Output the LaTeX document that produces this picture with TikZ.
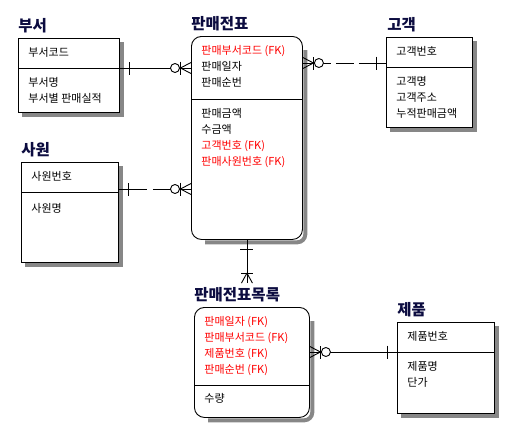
\documentclass[tikz,border=0pt]{standalone}
\usepackage{fontspec}
\setmainfont{Noto Sans CJK KR}
\usepackage{tikz}
\usetikzlibrary{matrix, positioning}
\definecolor{titlenavy}{RGB}{12,12,64}
\definecolor{fkred}{RGB}{255,0,0}
\definecolor{shadowgray}{RGB}{135,135,135}

\tikzset{
  entity/.style={draw, inner sep=0pt, anchor=north west},
  weak/.style={entity, rounded corners=10pt},
  shadowline/.style={draw=shadowgray, line width=4pt, line cap=butt, line join=miter},
  title/.style={font=\fontsize{15.5}{18}\selectfont\bfseries, text=titlenavy,
    inner sep=0pt, text height=13pt, text depth=2pt},
  attrs/.style={matrix of nodes, inner sep=0pt, row sep=0pt,
    nodes={anchor=west, inner sep=0pt, text height=12pt, text depth=4pt,
      font=\fontsize{11}{13}\selectfont}},
  fk/.style={text=fkred},
  nonid/.style={dash pattern=on 28pt off 5pt on 18pt off 5pt},
  one/.pic={\draw (-10,-6.5) -- (-10,6.5);},
  zeromany/.pic={
    \draw (-10.5,0) -- (0,-5.5) (-10.5,0) -- (0,5.5);
    \draw (-10.5,-6.5) -- (-10.5,6.5);
    \draw[fill=white] (-16,0) circle (4.5);},
  onemany/.pic={
    \draw (-10,0) -- (0,-5.5) (-10,0) -- (0,5.5);
    \draw (-10,-6) -- (-10,6);}
}

\begin{document}
\begin{tikzpicture}[x=1pt, y=-1pt, line width=0.9pt]
  \useasboundingbox (0,0) rectangle (520,439);

  % entity boxes
  \node[entity, minimum width=101pt, minimum height=74pt] (buseo) at (18,38) {};
  \node[weak, minimum width=111pt, minimum height=203pt] (panmae) at (191,36) {};
  \node[entity, minimum width=86pt, minimum height=90pt] (gogaek) at (386,37) {};
  \node[entity, minimum width=97pt, minimum height=100pt] (sawon) at (21,162) {};
  \node[weak, minimum width=115pt, minimum height=110pt] (mokrok) at (194,307) {};
  \node[entity, minimum width=97pt, minimum height=91pt] (jepum) at (397,322) {};

  % shadows along the right and bottom sides
  \foreach \e in {buseo, gogaek, sawon, jepum}
    \draw[shadowline] ([shift={(2.4pt,-4pt)}]\e.north east)
      -- ([shift={(2.4pt,-2.4pt)}]\e.south east) -- ([shift={(4pt,-2.4pt)}]\e.south west);
  \foreach \e in {panmae, mokrok}
    \draw[shadowline, rounded corners=8pt] ([shift={(2.4pt,-14pt)}]\e.north east)
      -- ([shift={(2.4pt,-2.4pt)}]\e.south east) -- ([shift={(14pt,-2.4pt)}]\e.south west);

  % titles
  \node[title, above right=4.5pt and 0pt of buseo.north west] (buseoT) {부서};
  \node[title, above right=4.5pt and 0pt of panmae.north west] (panmaeT) {판매전표};
  \node[title, above right=4.5pt and 1pt of gogaek.north west] (gogaekT) {고객};
  \node[title, above right=4.5pt and 0pt of sawon.north west] (sawonT) {사원};
  \node[title, above right=4.5pt and 0pt of mokrok.north west] (mokrokT) {판매전표목록};
  \node[title, above right=4.5pt and 0pt of jepum.north west] (jepumT) {제품};

  % key / non-key dividers
  \coordinate (buseoDiv) at ([yshift=-30pt]buseo.north west);
  \coordinate (panmaeDiv) at ([yshift=-63pt]panmae.north west);
  \coordinate (gogaekDiv) at ([yshift=-30pt]gogaek.north west);
  \coordinate (sawonDiv) at ([yshift=-30pt]sawon.north west);
  \coordinate (mokrokDiv) at ([yshift=-78pt]mokrok.north west);
  \coordinate (jepumDiv) at ([yshift=-30pt]jepum.north west);
  \foreach \e in {buseo, panmae, gogaek, sawon, mokrok, jepum}
    \draw (\e Div) -- (\e Div -| \e.east);

  % attributes
  \matrix[attrs, below right=6pt and 10pt of buseo.north west] (buseoKey) {
    부서코드 \\
  };
  \matrix[attrs, below right=6pt and 10pt of buseoDiv] (buseoAttr) {
    부서명 \\
    부서별 판매실적 \\
  };
  \matrix[attrs, below right=6pt and 10pt of panmae.north west] (panmaeKey) {
    |[fk]| 판매부서코드 (FK) \\
    판매일자 \\
    판매순번 \\
  };
  \matrix[attrs, below right=6pt and 10pt of panmaeDiv] (panmaeAttr) {
    판매금액 \\
    수금액 \\
    |[fk]| 고객번호 (FK) \\
    |[fk]| 판매사원번호 (FK) \\
  };
  \matrix[attrs, below right=6pt and 10pt of gogaek.north west] (gogaekKey) {
    고객번호 \\
  };
  \matrix[attrs, below right=6pt and 10pt of gogaekDiv] (gogaekAttr) {
    고객명 \\
    고객주소 \\
    누적판매금액 \\
  };
  \matrix[attrs, below right=6pt and 10pt of sawon.north west] (sawonKey) {
    사원번호 \\
  };
  \matrix[attrs, below right=8pt and 10pt of sawonDiv] (sawonAttr) {
    사원명 \\
  };
  \matrix[attrs, below right=6pt and 10pt of mokrok.north west] (mokrokKey) {
    |[fk]| 판매일자 (FK) \\
    |[fk]| 판매부서코드 (FK) \\
    |[fk]| 제품번호 (FK) \\
    |[fk]| 판매순번 (FK) \\
  };
  \matrix[attrs, below right=5pt and 10pt of mokrokDiv] (mokrokAttr) {
    수량 \\
  };
  \matrix[attrs, below right=6pt and 10pt of jepum.north west] (jepumKey) {
    제품번호 \\
  };
  \matrix[attrs, below right=6pt and 10pt of jepumDiv] (jepumAttr) {
    제품명 \\
    단가 \\
  };

  % relationships
  \coordinate (link1) at (0,68);
  \coordinate (link2) at (0,189);
  \coordinate (link3) at (0,63);
  \draw (buseo.east |- link1) -- (panmae.west |- link1);
  \pic[rotate=180] at (buseo.east |- link1) {one};
  \pic at (panmae.west |- link1) {zeromany};

  \draw[dash pattern=on 28pt off 6pt on 60pt] (sawon.east |- link2) -- (panmae.west |- link2);
  \pic[rotate=180] at (sawon.east |- link2) {one};
  \pic at (panmae.west |- link2) {zeromany};

  \draw[nonid] (panmae.east |- link3) -- (gogaek.west |- link3);
  \pic[rotate=180] at (panmae.east |- link3) {zeromany};
  \pic at (gogaek.west |- link3) {one};

  \coordinate (mokrokIn) at ([yshift=3.5pt]panmae.south |- mokrokT.north);
  \draw (panmae.south) -- (mokrokIn);
  \pic[rotate=90] at (panmae.south) {one};
  \pic[rotate=-90] at (mokrokIn) {onemany};

  \draw (mokrok.east |- jepumDiv) -- (jepum.west |- jepumDiv);
  \pic[rotate=180] at (mokrok.east |- jepumDiv) {zeromany};
  \pic at (jepum.west |- jepumDiv) {one};
\end{tikzpicture}
\end{document}
